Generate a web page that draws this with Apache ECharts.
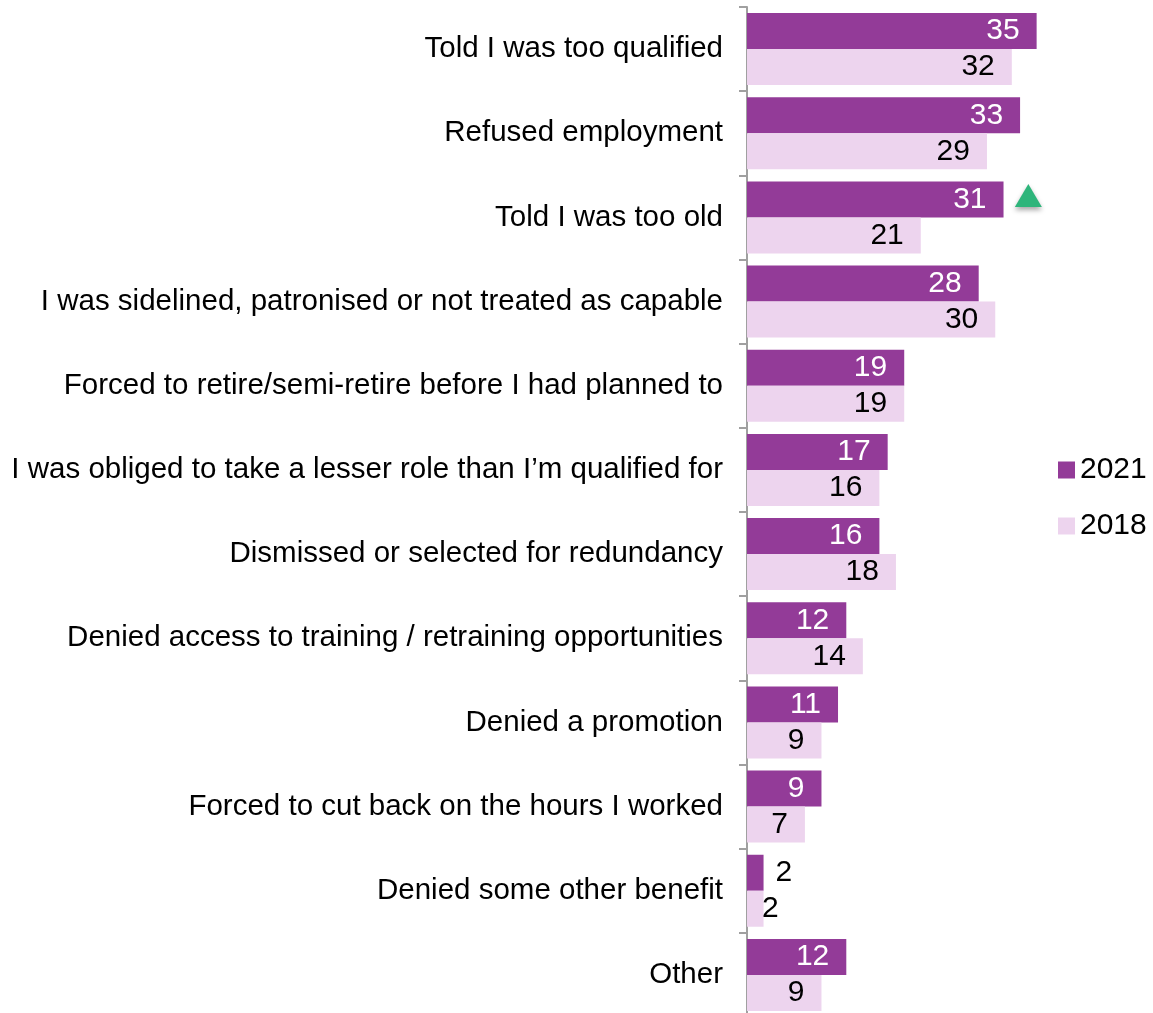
<!DOCTYPE html>
<html>
<head>
<meta charset="utf-8">
<script src="https://cdn.jsdelivr.net/npm/echarts@6/dist/echarts.min.js"></script>
<style>
  html, body { margin: 0; padding: 0; background: #fff; }
  #chart { width: 1153px; height: 1013px; }
</style>
</head>
<body>
<div id="chart"></div>
<script>
// Experiences of age discrimination at work (%), 2021 vs 2018
const categories = [
  'Told I was too qualified',
  'Refused employment',
  'Told I was too old',
  'I was sidelined, patronised or not treated as capable',
  'Forced to retire/semi-retire before I had planned to',
  'I was obliged to take a lesser role than I\u2019m qualified for',
  'Dismissed or selected for redundancy',
  'Denied access to training / retraining opportunities',
  'Denied a promotion',
  'Forced to cut back on the hours I worked',
  'Denied some other benefit',
  'Other'
];
const values2021 = [35, 33, 31, 28, 19, 17, 16, 12, 11, 9, 2, 12];
const values2018 = [32, 29, 21, 30, 19, 16, 18, 14, 9, 7, 2, 9];
const seriesNames = ['2021', '2018'];
// Significant increase marker on this category
const flaggedCategory = 'Told I was too old';
const flagValue = 34;

const FONT = '"Liberation Sans", Arial, sans-serif';
const PURPLE = '#933B98';
const LILAC = '#EDD4EE';
const SMALL = 4; // bars too short to hold their label inside

const chart = echarts.init(document.getElementById('chart'), null, { renderer: 'canvas' });

const data2021 = values2021.map(v => v < SMALL
  ? { value: v, label: { position: 'right', distance: 12, color: '#000' } }
  : v);
const data2018 = values2018.map(v => v < SMALL
  ? { value: v, label: { position: 'insideLeft', distance: 15, color: '#000' } }
  : v);

chart.setOption({
  backgroundColor: '#fff',
  animation: false,
  textStyle: { fontFamily: FONT },
  legend: {
    orient: 'vertical',
    left: 1058,
    top: 455,
    padding: 0,
    itemWidth: 17,
    itemHeight: 17,
    itemGap: 26,
    icon: 'rect',
    textStyle: { fontSize: 30, color: '#000', fontFamily: FONT, lineHeight: 30, padding: [0, 0, 0, 0] },
    data: seriesNames
  },
  grid: {
    left: 747, top: 7, width: 331, height: 1010,
    containLabel: false,
    outerBoundsMode: 'none'
  },
  xAxis: {
    type: 'value',
    min: 0,
    max: 40,
    show: false
  },
  yAxis: {
    type: 'category',
    inverse: true,
    data: categories,
    axisLine: { show: true, lineStyle: { color: '#A0A0A0', width: 2 } },
    axisTick: { show: true, length: 8, lineStyle: { color: '#A0A0A0', width: 2 } },
    axisLabel: { margin: 24, fontSize: 29.5, color: '#000', fontFamily: FONT }
  },
  series: [
    {
      name: seriesNames[0],
      type: 'bar',
      data: data2021,
      barWidth: 36,
      barGap: '0%',
      itemStyle: { color: PURPLE },
      label: {
        show: true, position: 'insideRight', distance: 17,
        fontSize: 30, color: '#fff', fontFamily: FONT
      },
      markPoint: {
        silent: true,
        symbol: 'triangle',
        symbolSize: [27, 23],
        symbolOffset: [0, -4],
        label: { show: false },
        itemStyle: {
          color: '#2EB57B',
          shadowColor: 'rgba(0,0,0,0.35)',
          shadowBlur: 5,
          shadowOffsetY: 3
        },
        data: [{ coord: [flagValue, flaggedCategory] }]
      }
    },
    {
      name: seriesNames[1],
      type: 'bar',
      data: data2018,
      barWidth: 36,
      itemStyle: { color: LILAC },
      label: {
        show: true, position: 'insideRight', distance: 17,
        fontSize: 30, color: '#000', fontFamily: FONT
      }
    }
  ]
});
</script>
</body>
</html>
